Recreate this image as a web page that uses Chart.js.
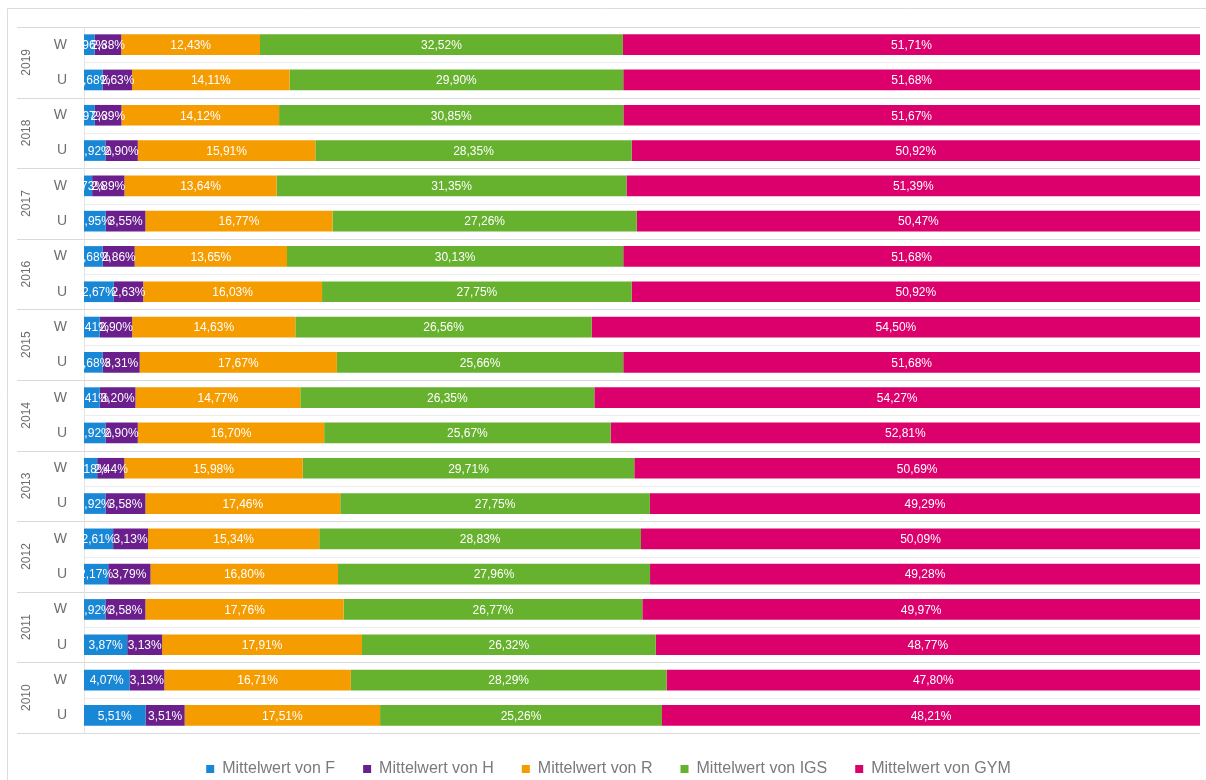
<!DOCTYPE html>
<html>
<head>
<meta charset="utf-8">
<script src="https://cdn.jsdelivr.net/npm/chart.js@4/dist/chart.umd.min.js"></script>
<style>
    body { margin: 0; background: #fff; }
    #wrap { width: 1206px; height: 780px; position: relative; }
</style>
</head>
<body>
<div id="wrap"><canvas id="canvas"></canvas></div>
<script>
const years = ['2019', '2018', '2017', '2016', '2015', '2014', '2013', '2012', '2011', '2010'];
const kinds = ['W', 'U'];
const rowLabels = years.flatMap(() => kinds);

// Mittelwerte in Prozent, Reihenfolge wie im Bild von oben nach unten
const valuesF = [0.96, 1.68, 0.97, 1.92, 0.73, 1.95, 1.68, 2.67, 1.41, 1.68, 1.41, 1.92, 1.18, 1.92, 2.61, 2.17, 1.92, 3.87, 4.07, 5.51];
const valuesH = [2.38, 2.63, 2.39, 2.90, 2.89, 3.55, 2.86, 2.63, 2.90, 3.31, 3.20, 2.90, 2.44, 3.58, 3.13, 3.79, 3.58, 3.13, 3.13, 3.51];
const valuesR = [12.43, 14.11, 14.12, 15.91, 13.64, 16.77, 13.65, 16.03, 14.63, 17.67, 14.77, 16.70, 15.98, 17.46, 15.34, 16.80, 17.76, 17.91, 16.71, 17.51];
const valuesIGS = [32.52, 29.90, 30.85, 28.35, 31.35, 27.26, 30.13, 27.75, 26.56, 25.66, 26.35, 25.67, 29.71, 27.75, 28.83, 27.96, 26.77, 26.32, 28.29, 25.26];
const valuesGYM = [51.71, 51.68, 51.67, 50.92, 51.39, 50.47, 51.68, 50.92, 54.50, 51.68, 54.27, 52.81, 50.69, 49.29, 50.09, 49.28, 49.97, 48.77, 47.80, 48.21];

const seriesNames = ['Mittelwert von F', 'Mittelwert von H', 'Mittelwert von R', 'Mittelwert von IGS', 'Mittelwert von GYM'];
const seriesColors = ['#1887d6', '#6a1f8c', '#f59c00', '#66b22e', '#dc006d'];
const seriesValues = [valuesF, valuesH, valuesR, valuesIGS, valuesGYM];

const fmt = (v) => v.toFixed(2).replace('.', ',') + '%';

const frame = {
    id: 'frame',
    beforeDraw(chart) {
        const c = chart.ctx;
        const y = chart.scales.y;
        const area = chart.chartArea;
        c.save();
        c.strokeStyle = '#dcdcdc';
        c.lineWidth = 1;
        c.beginPath();
        c.moveTo(7.5, 780);
        c.lineTo(7.5, 8.5);
        c.lineTo(1206, 8.5);
        c.stroke();
        const step = y.getPixelForValue(1) - y.getPixelForValue(0);
        for (let i = 0; i <= rowLabels.length; i++) {
            const py = Math.round(y.getPixelForValue(i) - step / 2) + 0.5;
            c.beginPath();
            if (i % 2 === 0) {
                c.strokeStyle = '#d9d9d9';
                c.moveTo(17, py);
            } else {
                c.strokeStyle = '#ececec';
                c.moveTo(area.left, py);
            }
            c.lineTo(area.right, py);
            c.stroke();
        }
        c.restore();
    },
    afterDraw(chart) {
        const c = chart.ctx;
        const y = chart.scales.y;
        c.save();
        // Jahresbeschriftung (zweite Ebene der Kategorieachse)
        c.fillStyle = '#6e6e6e';
        c.font = '12px "Liberation Sans", Arial, sans-serif';
        c.textAlign = 'center';
        c.textBaseline = 'middle';
        years.forEach((yr, g) => {
            const cy = (y.getPixelForValue(g * 2) + y.getPixelForValue(g * 2 + 1)) / 2;
            c.save();
            c.translate(27, cy);
            c.rotate(-Math.PI / 2);
            c.fillText(yr, 0, 0);
            c.restore();
        });
        // Datenbeschriftungen
        c.fillStyle = '#ffffff';
        c.font = '12px "Liberation Sans", Arial, sans-serif';
        chart.data.datasets.forEach((ds, di) => {
            const meta = chart.getDatasetMeta(di);
            meta.data.forEach((bar, i) => {
                c.fillText(fmt(ds.data[i]), (bar.x + bar.base) / 2, bar.y + 1);
            });
        });
        c.restore();
    }
};

const legendSize = {
    id: 'legendSize',
    afterInit(chart) {
        const fit = chart.legend.fit;
        chart.legend.fit = function () {
            fit.call(this);
            this.height = 47;
        };
    }
};

new Chart(document.getElementById('canvas'), {
    type: 'bar',
    data: {
        labels: rowLabels,
        datasets: seriesNames.map((name, i) => ({
            label: name,
            data: seriesValues[i],
            backgroundColor: seriesColors[i],
            borderWidth: 0,
            barPercentage: 0.585,
            categoryPercentage: 1
        }))
    },
    options: {
        indexAxis: 'y',
        responsive: true,
        maintainAspectRatio: false,
        animation: false,
        layout: { padding: { left: 17, right: 6, top: 27, bottom: 0 } },
        scales: {
            x: {
                stacked: true,
                min: 0,
                max: 100,
                display: false
            },
            y: {
                stacked: true,
                grid: { display: false, drawTicks: false },
                border: { display: true, color: '#e3e3e3' },
                ticks: {
                    color: '#6e6e6e',
                    padding: 17,
                    font: { size: 14, family: '"Liberation Sans", Arial, sans-serif' }
                },
                afterFit(scale) { scale.width = 67; }
            }
        },
        plugins: {
            tooltip: { enabled: false },
            legend: {
                position: 'bottom',
                labels: {
                    boxWidth: 8,
                    boxHeight: 8,
                    padding: 28,
                    color: '#7a7a7a',
                    font: { size: 16, family: '"Liberation Sans", Arial, sans-serif' }
                }
            }
        }
    },
    plugins: [frame, legendSize]
});
</script>
</body>
</html>
